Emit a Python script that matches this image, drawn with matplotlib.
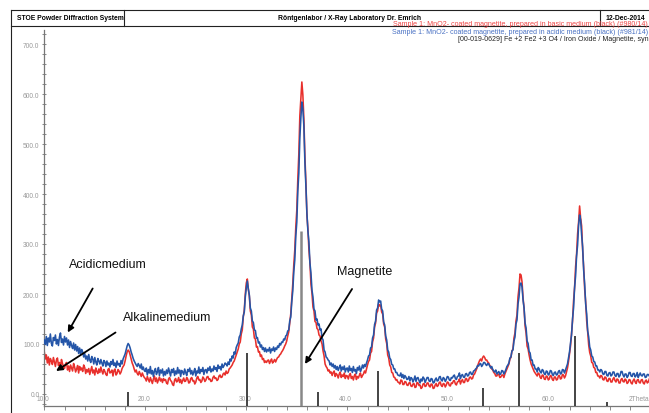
import numpy as np
import matplotlib.pyplot as plt
from matplotlib.lines import Line2D
from matplotlib.ticker import MultipleLocator

# scan settings (2Theta start / step)
start, step = 10.0, 0.1

# Sample 1, acidic medium (#981/14), one row = 2 deg
acidic = [
    108, 99, 115, 97, 112, 104, 120, 101, 96, 113, 107, 118, 100, 109, 97, 114, 122, 103, 110, 98,
    115, 104, 112, 98, 108, 93, 105, 97, 91, 102, 88, 99, 86, 95, 81, 92, 79, 89, 84, 74,
    81, 70, 76, 66, 79, 68, 63, 75, 70, 60, 73, 64, 58, 71, 66, 60, 69, 62, 56, 67,
    64, 55, 66, 58, 62, 54, 65, 59, 69, 57, 62, 53, 66, 58, 61, 55, 67, 60, 70, 75,
    80, 88, 96, 101, 98, 92, 84, 78, 71, 66, 62, 58, 55, 61, 57, 52, 60, 49, 54, 47,
    45, 52, 38, 49, 42, 55, 40, 47, 35, 46, 51, 39, 44, 53, 37, 48, 42, 50, 36, 45,
    38, 48, 41, 52, 44, 36, 49, 43, 51, 37, 46, 40, 53, 42, 48, 35, 47, 44, 39, 50,
    43, 37, 49, 45, 52, 40, 47, 38, 44, 51, 36, 46, 42, 54, 41, 49, 45, 53, 39, 48,
    49, 42, 52, 47, 55, 44, 50, 46, 56, 49, 53, 45, 58, 51, 55, 48, 60, 53, 57, 62,
    60, 56, 64, 59, 70, 66, 76, 72, 84, 80, 93, 98, 102, 114, 118, 130, 138, 156, 164, 194,
    212, 226, 210, 198, 172, 166, 146, 143, 128, 127, 112, 113, 102, 104, 94, 98, 89, 93, 85, 92,
    84, 89, 86, 93, 82, 90, 87, 94, 85, 92, 89, 96, 93, 101, 98, 104, 103, 110, 108, 116,
    118, 126, 128, 146, 154, 184, 206, 244, 268, 316, 344, 406, 442, 512, 552, 584, 570, 536, 464, 416,
    362, 326, 304, 262, 242, 208, 194, 170, 166, 148, 150, 138, 140, 128, 130, 112, 108, 88, 84, 74,
    72, 68, 66, 58, 62, 55, 60, 52, 57, 49, 55, 47, 53, 58, 46, 54, 49, 56, 44, 51,
    52, 44, 56, 47, 51, 43, 55, 46, 49, 41, 53, 48, 56, 45, 50, 58, 52, 59, 55, 62,
    68, 76, 78, 92, 94, 112, 118, 139, 146, 168, 172, 188, 184, 186, 170, 166, 144, 138, 116, 108,
    88, 84, 72, 69, 59, 58, 50, 50, 43, 43, 38, 37, 36, 42, 33, 39, 31, 37, 34, 29,
    30, 35, 26, 33, 31, 24, 29, 36, 25, 32, 33, 27, 22, 30, 26, 34, 31, 23, 28, 33,
    33, 26, 25, 31, 30, 22, 23, 29, 32, 26, 27, 34, 35, 28, 26, 33, 31, 25, 29, 35,
    34, 28, 27, 33, 32, 36, 38, 31, 29, 35, 36, 42, 31, 37, 39, 34, 33, 40, 41, 36,
    37, 43, 44, 39, 40, 46, 47, 50, 52, 57, 56, 60, 61, 55, 58, 63, 63, 59, 57, 61,
    60, 56, 52, 55, 49, 46, 44, 48, 40, 43, 45, 39, 41, 47, 46, 40, 44, 49, 55, 58,
    62, 72, 74, 86, 88, 106, 114, 140, 148, 180, 194, 220, 222, 214, 188, 172, 142, 132, 106, 101,
    85, 82, 68, 68, 57, 58, 50, 50, 44, 53, 50, 44, 42, 49, 47, 40, 39, 46, 45, 38,
    40, 47, 46, 39, 37, 43, 44, 38, 39, 45, 47, 40, 41, 49, 48, 42, 48, 54, 60, 72,
    84, 102, 118, 150, 172, 212, 236, 276, 298, 338, 358, 348, 318, 294, 248, 220, 180, 160, 126, 114,
    94, 88, 76, 74, 65, 64, 56, 56, 48, 48, 44, 49, 47, 40, 39, 45, 45, 37, 36, 42,
    43, 36, 38, 44, 44, 37, 35, 41, 41, 34, 37, 45, 45, 38, 34, 40, 40, 33, 36, 43,
    43, 36, 35, 41, 41, 34, 37, 43, 33, 38, 42, 37, 36, 40, 40, 33, 34, 39, 39, 36,
]

# Sample 1, basic medium (#980/14)
basic = [
    84, 70, 78, 62, 74, 58, 71, 66, 59, 73, 64, 55, 68, 72, 57, 63, 52, 69, 61, 55,
    51, 60, 63, 48, 56, 45, 58, 52, 46, 61, 54, 44, 50, 57, 42, 55, 48, 52, 45, 58,
    53, 41, 49, 44, 51, 39, 47, 55, 42, 48, 38, 52, 45, 41, 50, 43, 54, 46, 40, 49,
    45, 39, 37, 49, 51, 42, 44, 48, 36, 47, 50, 38, 41, 49, 46, 40, 44, 51, 55, 58,
    66, 76, 84, 88, 85, 78, 70, 62, 57, 50, 44, 48, 41, 38, 45, 40, 35, 42, 37, 33,
    31, 26, 35, 29, 24, 33, 27, 21, 30, 36, 25, 32, 22, 28, 34, 26, 30, 23, 31, 27,
    29, 22, 20, 30, 33, 27, 25, 19, 17, 28, 31, 24, 26, 33, 23, 29, 21, 27, 32, 25,
    26, 33, 30, 22, 23, 31, 33, 26, 27, 20, 24, 32, 35, 28, 29, 23, 26, 34, 31, 25,
    28, 34, 35, 29, 30, 25, 26, 33, 36, 31, 32, 27, 29, 36, 38, 33, 34, 40, 42, 38,
    46, 41, 43, 50, 52, 55, 58, 63, 66, 72, 78, 84, 90, 100, 104, 120, 128, 154, 168, 200,
    222, 230, 210, 196, 166, 158, 134, 130, 112, 110, 94, 95, 84, 85, 75, 78, 69, 71, 63, 66,
    63, 67, 68, 61, 66, 70, 62, 65, 69, 64, 69, 73, 74, 78, 80, 84, 87, 91, 96, 100,
    106, 116, 124, 142, 160, 190, 220, 258, 288, 334, 368, 430, 480, 556, 590, 624, 598, 550, 476, 424,
    358, 330, 288, 262, 220, 202, 174, 166, 145, 143, 131, 129, 118, 116, 106, 100, 86, 76, 60, 55,
    52, 46, 48, 42, 44, 37, 43, 46, 35, 41, 38, 32, 40, 44, 33, 38, 35, 42, 31, 37,
    36, 30, 38, 41, 31, 35, 28, 37, 40, 29, 35, 32, 38, 42, 33, 37, 40, 46, 42, 50,
    58, 65, 68, 82, 85, 104, 112, 134, 142, 162, 166, 180, 176, 178, 164, 160, 140, 134, 110, 101,
    78, 72, 58, 54, 43, 42, 34, 33, 28, 29, 24, 23, 20, 28, 27, 19, 19, 25, 24, 18,
    17, 22, 23, 16, 15, 20, 21, 13, 14, 23, 22, 17, 18, 11, 13, 20, 21, 15, 16, 22,
    22, 16, 14, 20, 19, 11, 12, 18, 21, 15, 17, 23, 24, 17, 15, 21, 20, 14, 18, 24,
    23, 17, 16, 22, 21, 26, 27, 20, 18, 24, 25, 30, 20, 26, 29, 23, 23, 30, 31, 25,
    27, 33, 34, 30, 31, 38, 40, 45, 50, 56, 62, 67, 70, 66, 73, 76, 73, 68, 68, 64,
    62, 57, 55, 50, 48, 43, 41, 36, 36, 40, 39, 33, 34, 38, 38, 33, 40, 45, 50, 55,
    60, 70, 73, 86, 90, 112, 122, 146, 158, 194, 212, 240, 238, 224, 192, 172, 136, 122, 96, 90,
    78, 68, 60, 55, 50, 45, 42, 39, 36, 42, 40, 33, 31, 38, 37, 30, 29, 36, 35, 28,
    30, 37, 36, 29, 27, 34, 34, 28, 29, 36, 37, 30, 31, 39, 38, 32, 36, 44, 52, 65,
    80, 96, 122, 146, 186, 212, 254, 280, 320, 344, 376, 352, 336, 288, 254, 210, 184, 146, 124, 98,
    83, 76, 63, 62, 53, 52, 43, 43, 36, 36, 32, 37, 36, 29, 28, 34, 33, 26, 25, 31,
    31, 24, 24, 30, 33, 27, 24, 30, 29, 22, 22, 29, 31, 25, 24, 30, 28, 21, 23, 29,
    28, 22, 20, 27, 30, 24, 21, 28, 29, 23, 22, 28, 29, 22, 20, 26, 28, 22, 24, 30,
]

# PDF 00-019-0629 magnetite reference lines
ref_pos = [18.27, 30.10, 35.42, 37.05, 43.07, 53.40, 56.95, 62.52, 65.75]
ref_int = [8, 30, 100, 8, 20, 10, 30, 40, 2]

W, H = 649, 414
ymin, ymax = -23.4, 728
xmin, xmax = 10.0, 69.87

plt.rcParams['font.family'] = ['Liberation Sans', 'DejaVu Sans']
fig = plt.figure(figsize=(W / 100, H / 100), dpi=100)
ax = fig.add_axes([44.3 / W, 7.3 / H, (W - 44.3) / W, (406.7 - 31) / H])

two_theta = start + step * np.arange(len(acidic))
ax.plot(two_theta, basic, color='#e8302c', lw=1.15, zorder=2)
ax.plot(two_theta, acidic, color='#2455a8', lw=1.15, zorder=3)

# stick pattern, 100 % = 350 counts above the axis
stick_scale = 3.49
for p, r in zip(ref_pos, ref_int):
    c, w = ('#888888', 1.8) if r == 100 else ('#111111', 1.1)
    ax.vlines(p, ymin, ymin + r * stick_scale, color=c, lw=w, zorder=4)

ax.set_xlim(xmin, xmax)
ax.set_ylim(ymin, ymax)
for s in ['top', 'right']:
    ax.spines[s].set_visible(False)
for s in ['left', 'bottom']:
    ax.spines[s].set_color('#777777')
    ax.spines[s].set_linewidth(0.9)

ax.yaxis.set_major_locator(MultipleLocator(100))
ax.yaxis.set_minor_locator(MultipleLocator(20))
ax.set_yticks(np.arange(0, 701, 100))
ax.set_yticklabels([f'{v:.1f}' for v in range(0, 701, 100)])
ax.tick_params(axis='y', which='both', direction='inout', length=3,
               width=0.6, color='#777777', labelsize=4.8,
               labelcolor='#999999', pad=2)

ax.xaxis.set_major_locator(MultipleLocator(10))
ax.xaxis.set_minor_locator(MultipleLocator(2))
ax.tick_params(axis='x', which='both', direction='out', length=3,
               width=0.6, color='#777777', labelbottom=False)
for v in range(10, 70, 10):
    ax.text(v - 0.15, -9, f'{v:.1f}', fontsize=4.8, color='#999999',
            ha='center', va='center')
ax.text(67.9, -9, '2Theta', fontsize=4.8, color='#999999',
        ha='left', va='center', clip_on=False)

# labels with arrows
arrow = dict(arrowstyle='-|>', color='black', lw=1.3,
             mutation_scale=9, shrinkA=0, shrinkB=0)
ax.text(12.45, 260, 'Acidicmedium', fontsize=9,
        color='#111111', ha='left', va='center')
ax.annotate('', xy=(12.32, 123), xytext=(14.79, 211), arrowprops=arrow)
ax.text(17.76, 154, 'Alkalinemedium', fontsize=9,
        color='#111111', ha='left', va='center')
ax.annotate('', xy=(11.16, 46), xytext=(17.05, 123), arrowprops=arrow)
ax.text(38.95, 245, 'Magnetite', fontsize=9,
        color='#111111', ha='left', va='center')
ax.annotate('', xy=(35.81, 60), xytext=(40.47, 210), arrowprops=arrow)


def fx(x):
    return x / W


def fy(y):
    return 1 - y / H


# report header frame
for x0, y0, x1, y1 in [(11, 11, W, 11), (11, 27, W, 27), (11, 11, 11, H),
                       (124, 11, 124, 27), (600, 11, 600, 27)]:
    fig.add_artist(Line2D([fx(x0), fx(x1)], [fy(y0), fy(y1)],
                          color='#222222', lw=0.8))
fig.text(fx(17), fy(19), 'STOE Powder Diffraction System', fontsize=4.9,
         weight='bold', va='center', ha='left')
fig.text(fx(350), fy(19), 'Röntgenlabor / X-Ray Laboratory Dr. Emrich',
         fontsize=4.9, weight='bold', va='center', ha='center')
fig.text(fx(625), fy(19), '12-Dec-2014', fontsize=4.9,
         weight='bold', va='center', ha='center')

fig.text(fx(648), fy(25), 'Sample 1: MnO2- coated magnetite, prepared in basic '
         'medium (black) (#980/14)', fontsize=5.1, color='#ee4444',
         ha='right', va='center')
fig.text(fx(648), fy(32), 'Sample 1: MnO2- coated magnetite, prepared in acidic '
         'medium (black) (#981/14)', fontsize=5.1, color='#4a72c4',
         ha='right', va='center')
fig.text(fx(649), fy(39.5), '[00-019-0629] Fe +2 Fe2 +3 O4 / Iron Oxide / '
         'Magnetite, syn', fontsize=5.0, color='#222222',
         ha='right', va='center')

fig.savefig('out.png', dpi=100)
